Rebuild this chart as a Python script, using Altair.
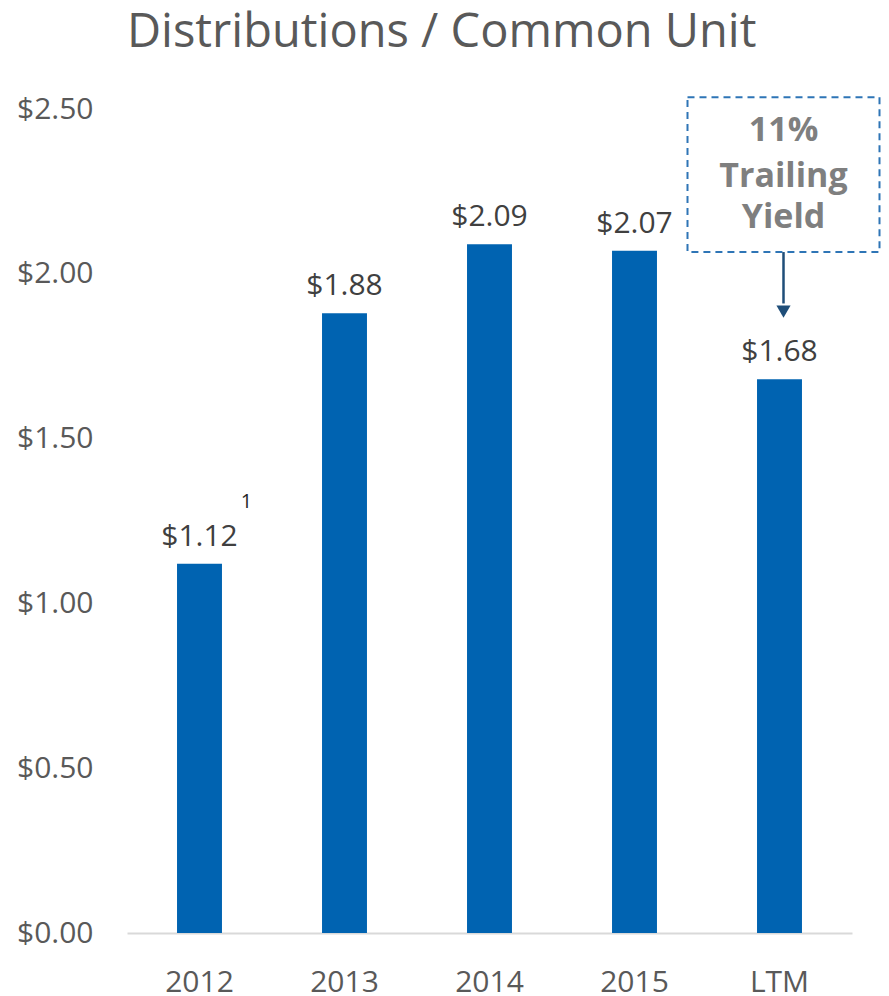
import altair as alt
import pandas as pd

# Data
categories = ["2012", "2013", "2014", "2015", "LTM"]
values = [1.12, 1.88, 2.09, 2.07, 1.68]
y_ticks = [0, 0.5, 1.0, 1.5, 2.0, 2.5]

# Annotation (in data units)
box_category = "LTM"
box_top = 2.536
box_bottom = 2.066
box_lines = ["11%", "Trailing", "Yield"]
box_line_y = [2.433, 2.294, 2.169]
arrow_end = 1.91
arrow_tip = 1.885
footnote_category = "2012"
footnote_value = 1.12
footnote_text = "1"

FONT = "Open Sans"
BLUE = "#0063B1"

df = pd.DataFrame({"cat": categories, "val": values})

x_enc = alt.X(
    "cat:N",
    sort=categories,
    scale=alt.Scale(domain=categories, paddingInner=0.69, paddingOuter=0.345),
    axis=alt.Axis(
        title=None, labelAngle=0, ticks=False, domain=True,
        domainColor="#D9D9D9", domainWidth=2,
        labelFont=FONT, labelFontSize=30, labelColor="#595959",
        labelPadding=34, grid=False,
    ),
)
y_scale = alt.Scale(domain=[0, 2.5], nice=False, zero=True)
y_enc = alt.Y(
    "val:Q",
    scale=y_scale,
    axis=alt.Axis(
        title=None, values=y_ticks, format="$.2f", ticks=False, domain=False,
        grid=False, labelFont=FONT, labelFontSize=30, labelColor="#595959",
        labelPadding=34,
    ),
)

base = alt.Chart(df)
bars = base.mark_bar(color=BLUE).encode(x=x_enc, y=y_enc)
labels = base.mark_text(
    font=FONT, fontSize=30, color="#404040", baseline="bottom", dy=-12
).encode(x=alt.X("cat:N", sort=categories), y=alt.Y("val:Q"),
         text=alt.Text("val:Q", format="$.2f"))

foot_df = pd.DataFrame({"cat": [footnote_category], "val": [footnote_value], "t": [footnote_text]})
foot = alt.Chart(foot_df).mark_text(
    font=FONT, fontSize=20, color="#262626", baseline="bottom", dx=47, dy=-52
).encode(x=alt.X("cat:N", sort=categories), y=alt.Y("val:Q"), text="t:N")

box_df = pd.DataFrame({"cat": [box_category], "top": [box_top], "bot": [box_bottom]})
box = alt.Chart(box_df).mark_bar(
    size=192, fill=None, fillOpacity=0, stroke="#2E75B6", strokeWidth=2,
    strokeDash=[7, 5], xOffset=4,
).encode(x=alt.X("cat:N", sort=categories), y=alt.Y("top:Q"), y2="bot:Q")

txt_df = pd.DataFrame({"cat": [box_category] * 3, "t": box_lines, "y": box_line_y})
box_text = alt.Chart(txt_df).mark_text(
    font=FONT, fontSize=34, fontWeight="bold", color="#7F7F7F", dx=4,
).encode(x=alt.X("cat:N", sort=categories), y=alt.Y("y:Q"), text="t:N")

arr_df = pd.DataFrame({"cat": [box_category], "y1": [box_bottom], "y2": [arrow_end], "tip": [arrow_tip]})
arrow_line = alt.Chart(arr_df).mark_rule(color="#1F4E79", strokeWidth=2.5, xOffset=4).encode(
    x=alt.X("cat:N", sort=categories), y=alt.Y("y1:Q"), y2="y2:Q")
arrow_head = alt.Chart(arr_df).mark_point(
    shape="triangle-down", filled=True, color="#1F4E79", size=200, opacity=1, xOffset=4
).encode(x=alt.X("cat:N", sort=categories), y=alt.Y("tip:Q"))

chart = alt.layer(bars, labels, foot, box, box_text, arrow_line, arrow_head).properties(
    width=725, height=824,
    title=alt.TitleParams(
        "Distributions / Common Unit", font=FONT, fontSize=47, fontWeight="normal",
        color="#595959", anchor="start", frame="group", offset=37,
    ),
    autosize=alt.AutoSizeParams(type="none"),
    padding={"left": 119, "top": 101, "right": 29, "bottom": 63},
).configure_view(stroke=None)

chart.save("out.html", embed_options={"renderer": "svg", "actions": False})
